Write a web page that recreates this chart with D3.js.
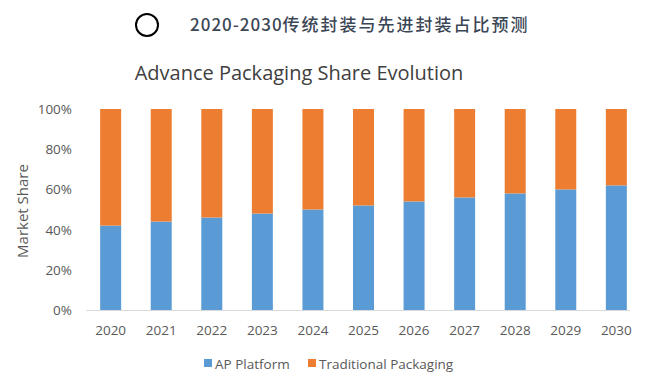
<!DOCTYPE html>
<html>
<head>
<meta charset="utf-8">
<script src="https://d3js.org/d3.v7.min.js"></script>
<style>
body { margin: 0; background: #fff; }
svg { display: block; }
text { font-family: "Open Sans", "Noto Sans", sans-serif; fill: #595959; }
</style>
</head>
<body>
<svg id="chart"></svg>
<script>
var years = ["2020", "2021", "2022", "2023", "2024", "2025", "2026", "2027", "2028", "2029", "2030"];
var apShare = [42, 44, 46, 48, 50, 52, 54, 56, 58, 60, 62];
var tradShare = [58, 56, 54, 52, 50, 48, 46, 44, 42, 40, 38];
var yTicks = [0, 20, 40, 60, 80, 100];
var seriesNames = ["AP Platform", "Traditional Packaging"];
var colors = ["#5B9BD5", "#ED7D31"];

var width = 654, height = 382;
var svg = d3.select("#chart").attr("width", width).attr("height", height);

var x = d3.scaleBand().domain(years).range([85.5, 641.5]).paddingInner(0.585).paddingOuter(0.29);
var y = d3.scaleLinear().domain([0, 100]).range([310, 109]);

// header
svg.append("circle").attr("cx", 147).attr("cy", 25).attr("r", 11)
  .attr("fill", "none").attr("stroke", "#000").attr("stroke-width", 2);
var head = svg.append("text").attr("x", 190).attr("y", 31)
  .style("font-family", "'Noto Sans CJK SC', sans-serif")
  .style("font-size", "17px").style("font-weight", "500").style("fill", "#3b4656");
head.append("tspan").style("letter-spacing", "1px").text("2020-2030");
head.append("tspan").style("letter-spacing", "2px").text("传统封装与先进封装占比预测");

svg.append("text").attr("x", 299).attr("y", 80).attr("text-anchor", "middle")
  .style("font-size", "20px").style("fill", "#404040")
  .text("Advance Packaging Share Evolution");

// y axis labels
svg.selectAll(".ytick").data(yTicks).enter().append("text")
  .attr("class", "ytick")
  .attr("x", 72).attr("y", function(d) { return y(d) + 5; })
  .attr("text-anchor", "end").style("font-size", "13.5px")
  .text(function(d) { return d + "%"; });

svg.append("text").attr("transform", "translate(28,211) rotate(-90)")
  .attr("text-anchor", "middle").style("font-size", "15px")
  .text("Market Share");

// stacked bars
var rows = years.map(function(yr, i) { return { year: yr, ap: apShare[i], trad: tradShare[i] }; });
var stack = d3.stack().keys(["ap", "trad"])(rows);

svg.selectAll(".series").data(stack).enter().append("g")
  .attr("fill", function(d, i) { return colors[i]; })
  .selectAll("rect").data(function(d) { return d; }).enter().append("rect")
  .attr("x", function(d) { return x(d.data.year); })
  .attr("width", x.bandwidth())
  .attr("y", function(d) { return y(d[1]); })
  .attr("height", function(d) { return y(d[0]) - y(d[1]); });

// x axis line
svg.append("line").attr("x1", 86).attr("x2", 630).attr("y1", 310.5).attr("y2", 310.5)
  .attr("stroke", "#d9d9d9").attr("stroke-width", 1);

svg.selectAll(".xtick").data(years).enter().append("text")
  .attr("class", "xtick")
  .attr("x", function(d) { return x(d) + x.bandwidth() / 2; })
  .attr("y", 335).attr("text-anchor", "middle").style("font-size", "13.5px")
  .text(function(d) { return d; });

// legend
var legendX = [204, 308];
seriesNames.forEach(function(name, i) {
  svg.append("rect").attr("x", legendX[i]).attr("y", 359).attr("width", 8).attr("height", 8)
    .attr("fill", colors[i]);
  svg.append("text").attr("x", legendX[i] + 11).attr("y", 368.5)
    .style("font-size", "13.5px").text(name);
});
</script>
</body>
</html>
